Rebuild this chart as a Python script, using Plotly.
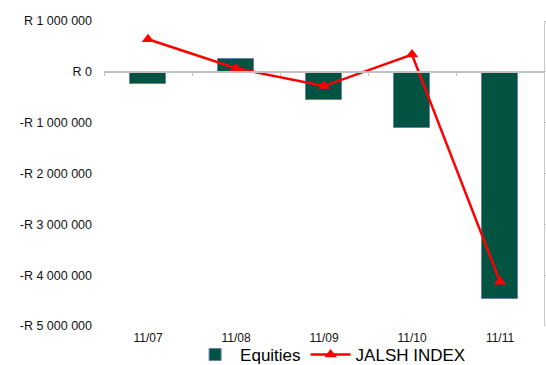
import plotly.graph_objects as go

categories = ["11/07", "11/08", "11/09", "11/10", "11/11"]
equities = [-232000, 246000, -547000, -1110000, -4476000]
jalsh_index = [0.64, 0.07, -0.28, 0.34, -4.13]
ytick_vals = [1000000, 0, -1000000, -2000000, -3000000, -4000000, -5000000]
ytick_text = ["R 1 000 000", "R 0", "-R 1 000 000", "-R 2 000 000",
              "-R 3 000 000", "-R 4 000 000", "-R 5 000 000"]

xpos = list(range(len(categories)))

fig = go.Figure()
fig.add_trace(go.Bar(
    x=xpos, y=equities, name="Equities", width=0.41,
    marker=dict(color="#025342", line=dict(color="#6a80a8", width=1)),
))
fig.add_trace(go.Scatter(
    x=xpos, y=jalsh_index, name="JALSH INDEX", yaxis="y2",
    mode="lines+markers",
    line=dict(color="#ff0000", width=2.5),
    marker=dict(symbol="triangle-up", size=11, color="#ff0000"),
))
# invisible helper trace for the category axis drawn at zero
fig.add_trace(go.Scatter(x=[0], y=[0], xaxis="x2", mode="markers",
                         marker=dict(opacity=0), showlegend=False, hoverinfo="skip"))

fig.update_layout(
    width=546, height=365,
    margin=dict(l=104, r=2, t=21, b=39, autoexpand=False),
    paper_bgcolor="white", plot_bgcolor="white",
    font=dict(family="Liberation Sans, Arial, sans-serif", size=12, color="#000"),
    showlegend=True,
    legend=dict(orientation="h", x=0.515, xanchor="center", y=-0.095, yanchor="middle",
                font=dict(size=17), itemwidth=40, tracegroupgap=0,
                bgcolor="rgba(0,0,0,0)"),
    bargap=0,
    xaxis=dict(range=[-0.5, 4.5], tickvals=xpos, ticktext=categories,
               showline=False, showgrid=False, zeroline=False, ticks="",
               ticklabelstandoff=3, tickfont=dict(size=12, color="#111"),
               automargin=False),
    xaxis2=dict(range=[-0.5, 4.5], overlaying="x", anchor="free",
                position=5/6, showline=True, linecolor="#c0c0c0", linewidth=1.5,
                tickvals=[-0.5, 0.5, 1.5, 2.5, 3.5, 4.5], ticks="outside", ticklen=3,
                tickcolor="#c0c0c0", showticklabels=False, showgrid=False, zeroline=False),
    yaxis=dict(range=[-5000000, 1000000], tickvals=ytick_vals, ticktext=ytick_text,
               showgrid=False, zeroline=False, showline=False, ticks="",
               ticklabelstandoff=11, tickfont=dict(size=12.5, color="#111"),
               automargin=False),
    yaxis2=dict(range=[-5, 1], overlaying="y", side="right", dtick=1,
                showgrid=False, zeroline=False, showline=True, linecolor="#c8c8c8",
                linewidth=1, ticks="outside", ticklen=3, tickcolor="#c8c8c8",
                showticklabels=False, automargin=False),
)

fig.write_html("out.html")
